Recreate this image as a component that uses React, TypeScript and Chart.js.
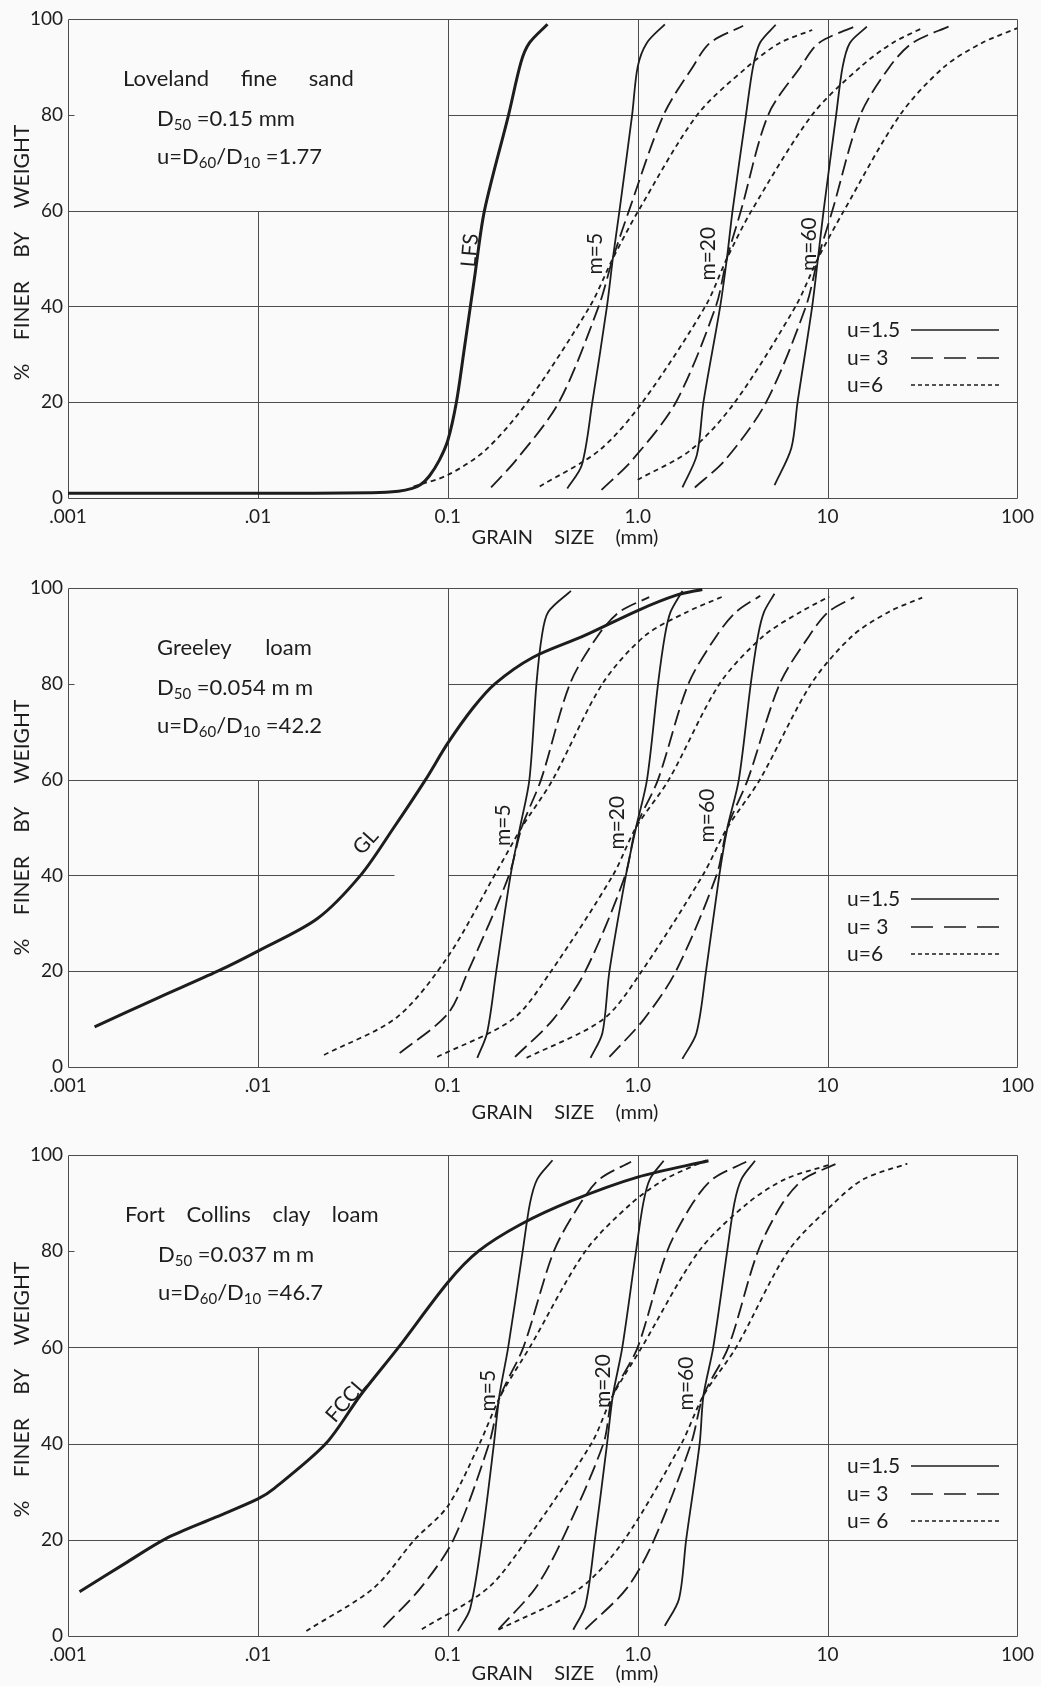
import React, { useEffect, useRef } from 'react';
import { Chart, registerables } from 'chart.js';

Chart.register(...registerables);

type Pt = [number, number];
type Seg = [number, number, number, number];
type Rich = { t: string; sub?: boolean }[];

// ---------------- axes ----------------
const X_TICK_VALUES = [0.001, 0.01, 0.1, 1, 10, 100];
const X_TICK_LABELS = ['.001', '.01', '0.1', '1.0', '10', '100'];
const Y_TICK_VALUES = [0, 20, 40, 60, 80, 100];

// ---------------- panel 1 : Loveland fine sand ----------------
const lfsCurve: Pt[] = [[0.001, 1.0], [0.01, 1.0], [0.04, 1.1], [0.055, 1.4], [0.065, 2.0], [0.072, 2.8], [0.08, 4.6], [0.09, 7.8], [0.1, 12], [0.111, 20], [0.122, 31], [0.139, 46.6], [0.156, 60], [0.209, 80], [0.243, 91], [0.269, 95], [0.335, 98.9]];
const p1M5U15: Pt[] = [[0.426, 2], [0.508, 6.9], [0.577, 20], [0.689, 40], [0.74, 50], [0.802, 60], [0.935, 80], [1.0, 90], [1.117, 95], [1.39, 98.9]];
const p1M20U15: Pt[] = [[1.72, 2.2], [2.05, 9], [2.22, 20], [2.72, 40], [2.95, 50], [3.16, 60], [3.72, 80], [4.05, 90], [4.4, 95], [5.33, 98.8]];
const p1M60U15: Pt[] = [[5.26, 2.7], [6.44, 10.4], [6.95, 20], [8.3, 40], [8.9, 50], [9.53, 60], [11.1, 80], [12.0, 90], [13.1, 95], [16.1, 98.4]];
const p1M5U3: Pt[] = [[0.169, 2.2], [0.23, 8], [0.385, 20], [0.623, 40], [0.74, 50], [0.9, 60], [1.37, 80], [1.95, 90], [2.4, 95], [3.59, 98.6]];
const p1M20U3: Pt[] = [[0.645, 1.7], [0.94, 8], [1.59, 20], [2.58, 40], [2.95, 50], [3.5, 60], [4.87, 80], [7.2, 90], [9.0, 95], [14.2, 98.6]];
const p1M60U3: Pt[] = [[2.0, 2.2], [2.9, 8], [4.75, 20], [7.69, 40], [8.9, 50], [10.6, 60], [14.9, 80], [21.2, 90], [28, 95], [44.4, 98.6]];
const p1M5U6: Pt[] = [[0.066, 2.4], [0.1, 4.8], [0.158, 10], [0.262, 20], [0.56, 40], [0.74, 50], [1.01, 60], [2.06, 80], [3.78, 90], [5.6, 95], [8.3, 97.7]];
const p1M20U6: Pt[] = [[0.305, 2.4], [0.63, 10], [1.06, 20], [2.27, 40], [2.95, 50], [3.98, 60], [8.3, 80], [14.9, 90], [22, 95], [31.9, 98.2]];
const p1M60U6: Pt[] = [[1.0, 3.8], [1.9, 10], [3.25, 20], [6.78, 40], [8.9, 50], [12.2, 60], [24.1, 80], [41.1, 90], [65, 95], [100, 98.1]];

// ---------------- panel 2 : Greeley loam ----------------
const glCurve: Pt[] = [[0.00138, 8.4], [0.003, 14.5], [0.00614, 20], [0.01, 24.2], [0.0206, 31], [0.0347, 40], [0.052, 50], [0.0764, 60], [0.1, 67.6], [0.136, 75], [0.177, 80], [0.28, 85.5], [0.52, 90], [1.0, 95.3], [1.6, 98.5], [2.19, 99.7]];
const p2M5U15: Pt[] = [[0.143, 1.9], [0.161, 7.1], [0.18, 20], [0.214, 40], [0.24, 50], [0.269, 60], [0.293, 80], [0.313, 90], [0.338, 95], [0.445, 99.4]];
const p2M20U15: Pt[] = [[0.565, 1.9], [0.652, 7.1], [0.71, 20], [0.867, 40], [0.98, 50], [1.12, 60], [1.28, 80], [1.39, 90], [1.49, 95], [1.72, 99.4]];
const p2M60U15: Pt[] = [[1.72, 1.7], [2.04, 7.1], [2.29, 20], [2.69, 40], [2.97, 50], [3.41, 60], [3.94, 80], [4.3, 90], [4.63, 95], [5.25, 98.8]];
const p2M5U3: Pt[] = [[0.0558, 2.9], [0.1, 11.1], [0.128, 20], [0.21, 40], [0.245, 50], [0.31, 60], [0.44, 80], [0.616, 90], [0.8, 95], [1.15, 98.1]];
const p2M20U3: Pt[] = [[0.226, 2.1], [0.36, 10], [0.53, 20], [0.86, 40], [0.98, 50], [1.28, 60], [1.85, 80], [2.6, 90], [3.3, 95], [4.42, 98.4]];
const p2M60U3: Pt[] = [[0.71, 2.1], [1.08, 10], [1.59, 20], [2.6, 40], [2.97, 50], [3.8, 60], [5.6, 80], [8.0, 90], [10.1, 95], [13.8, 98.1]];
const p2M5U6: Pt[] = [[0.0223, 2.5], [0.054, 10.4], [0.1, 23], [0.182, 41], [0.245, 50], [0.357, 60], [0.652, 80], [1.09, 90], [1.82, 95], [2.8, 98.2]];
const p2M20U6: Pt[] = [[0.088, 2.1], [0.22, 10], [0.35, 20], [0.74, 40], [0.98, 50], [1.46, 60], [2.7, 80], [4.6, 90], [7.2, 95], [10.2, 98.2]];
const p2M60U6: Pt[] = [[0.26, 1.9], [0.66, 10], [1.05, 20], [2.2, 40], [2.97, 50], [4.4, 60], [8.2, 80], [13.5, 90], [21, 95], [31.5, 98]];

// ---------------- panel 3 : Fort Collins clay loam ----------------
const fcclCurve: Pt[] = [[0.00115, 9.2], [0.002, 15.1], [0.00326, 20.2], [0.006, 24.7], [0.01, 28.5], [0.0122, 30.7], [0.0228, 40], [0.0346, 50], [0.055, 60], [0.1, 73.5], [0.145, 80], [0.24, 85.5], [0.45, 90.5], [1.0, 95.4], [2.36, 98.8]];
const p3M5U15: Pt[] = [[0.113, 1.0], [0.131, 5.6], [0.151, 20], [0.175, 40], [0.187, 50], [0.208, 60], [0.248, 80], [0.271, 90], [0.296, 95], [0.356, 98.9]];
const p3M20U15: Pt[] = [[0.458, 1.3], [0.53, 6.3], [0.595, 20], [0.69, 40], [0.74, 50], [0.83, 60], [0.98, 80], [1.07, 90], [1.16, 95], [1.37, 98.8]];
const p3M60U15: Pt[] = [[1.39, 2.1], [1.65, 7.7], [1.8, 20], [2.12, 40], [2.22, 50], [2.5, 60], [2.96, 80], [3.23, 90], [3.52, 95], [4.15, 98.8]];
const p3M5U3: Pt[] = [[0.0458, 1.8], [0.072, 10], [0.107, 20], [0.165, 40], [0.19, 50], [0.25, 60], [0.362, 80], [0.5, 90], [0.631, 95], [0.923, 98.6]];
const p3M20U3: Pt[] = [[0.185, 1.4], [0.29, 10], [0.4, 20], [0.66, 40], [0.74, 50], [1.0, 60], [1.43, 80], [1.95, 90], [2.48, 95], [3.73, 98.6]];
const p3M60U3: Pt[] = [[0.53, 1.4], [0.88, 10], [1.22, 20], [1.91, 40], [2.22, 50], [3.0, 60], [4.3, 80], [5.8, 90], [7.5, 95], [11.0, 98.1]];
const p3M5U6: Pt[] = [[0.018, 1.05], [0.0408, 10], [0.0668, 20], [0.1, 27], [0.147, 40], [0.19, 50], [0.27, 60], [0.53, 80], [0.93, 90], [1.4, 95], [2.3, 98.9]];
const p3M20U6: Pt[] = [[0.073, 1.4], [0.163, 10], [0.26, 20], [0.57, 40], [0.74, 50], [1.05, 60], [2.1, 80], [3.8, 90], [6.0, 95], [10.5, 98.1]];
const p3M60U6: Pt[] = [[0.185, 1.3], [0.5, 10], [0.85, 20], [1.7, 40], [2.22, 50], [3.3, 60], [6.2, 80], [10.8, 90], [15.5, 95], [26.3, 98.2]];

// ---------------- labels and texts ----------------
const p1CurveLabels = [
  { text: 'LFS', x: 0.131, y: 51.7, angle: -85 },
  { text: 'm=5', x: 0.6, y: 51, angle: -90 },
  { text: 'm=20', x: 2.35, y: 51, angle: -90 },
  { text: 'm=60', x: 8.0, y: 53, angle: -90 },
];
const p2CurveLabels = [
  { text: 'GL', x: 0.037, y: 47, angle: -48 },
  { text: 'm=5', x: 0.196, y: 50.5, angle: -90 },
  { text: 'm=20', x: 0.78, y: 51, angle: -90 },
  { text: 'm=60', x: 2.33, y: 52.5, angle: -90 },
];
const p3CurveLabels = [
  { text: 'FCCL', x: 0.0292, y: 49, angle: -49 },
  { text: 'm=5', x: 0.163, y: 51, angle: -90 },
  { text: 'm=20', x: 0.66, y: 53, angle: -90 },
  { text: 'm=60', x: 1.8, y: 52.5, angle: -90 },
];

const p1Note: Rich[] = [
  [{ t: 'Loveland fine sand' }],
  [{ t: 'D' }, { t: '50', sub: true }, { t: ' =0.15 mm' }],
  [{ t: 'u=D' }, { t: '60', sub: true }, { t: '/D' }, { t: '10', sub: true }, { t: ' =1.77' }],
];
const p2Note: Rich[] = [
  [{ t: 'Greeley loam' }],
  [{ t: 'D' }, { t: '50', sub: true }, { t: ' =0.054 m m' }],
  [{ t: 'u=D' }, { t: '60', sub: true }, { t: '/D' }, { t: '10', sub: true }, { t: ' =42.2' }],
];
const p3Note: Rich[] = [
  [{ t: 'Fort Collins clay loam' }],
  [{ t: 'D' }, { t: '50', sub: true }, { t: ' =0.037 m m' }],
  [{ t: 'u=D' }, { t: '60', sub: true }, { t: '/D' }, { t: '10', sub: true }, { t: ' =46.7' }],
];

const p1Legend = ['u=1.5', 'u= 3', 'u=6'];
const p2Legend = ['u=1.5', 'u= 3', 'u=6'];
const p3Legend = ['u=1.5', 'u= 3', 'u= 6'];

const X_TITLE = 'GRAIN SIZE (mm)';
const Y_TITLE = '% FINER BY WEIGHT';

// grid segments in data coordinates [x1, y1, x2, y2]
const gridBase: Seg[] = [
  [0.001, 0, 0.001, 100], [100, 0, 100, 100], [0.1, 0, 0.1, 100], [1, 0, 1, 100], [10, 0, 10, 100], [0.01, 0, 0.01, 60],
  [0.001, 0, 100, 0], [0.001, 100, 100, 100], [0.001, 20, 100, 20], [0.001, 60, 100, 60], [0.1, 80, 100, 80], [0.001, 80, 0.00107, 80],
];
const grid40Full: Seg[] = [[0.001, 40, 100, 40]];
const grid40Gap: Seg[] = [[0.001, 40, 0.052, 40], [0.1, 40, 100, 40]];

// ---------------- styles ----------------
const FONT = 'Lato, "DejaVu Sans", sans-serif';
const INK = '#1d1d1d';
const GRID_INK = '#4d4d4d';
const DASHES: Record<string, number[]> = { solid: [], long: [16, 6], short: [5, 4] };
const LEGEND_DASHES = [[], [22, 11], [4, 3]];

type Style = 'solid' | 'long' | 'short';

interface PanelCfg {
  top: number;
  canvasH: number;
  plotH: number;
  soil: Pt[];
  theory: [Pt[], Style][];
  labels: { text: string; x: number; y: number; angle: number }[];
  note: Rich[];
  noteX: number[];
  noteSpacing: number;
  legend: string[];
  grid: Seg[];
  xTitleGap: number;
  yTitleShift: number;
}

const panels: PanelCfg[] = [
  {
    top: 0, canvasH: 565, plotH: 479, soil: lfsCurve,
    theory: [[p1M5U15, 'solid'], [p1M20U15, 'solid'], [p1M60U15, 'solid'], [p1M5U3, 'long'], [p1M20U3, 'long'], [p1M60U3, 'long'], [p1M5U6, 'short'], [p1M20U6, 'short'], [p1M60U6, 'short']],
    labels: p1CurveLabels, note: p1Note, noteX: [55, 89, 89], noteSpacing: 26, legend: p1Legend,
    grid: [...gridBase, ...grid40Full], xTitleGap: 40, yTitleShift: -6,
  },
  {
    top: 569, canvasH: 567, plotH: 479, soil: glCurve,
    theory: [[p2M5U15, 'solid'], [p2M20U15, 'solid'], [p2M60U15, 'solid'], [p2M5U3, 'long'], [p2M20U3, 'long'], [p2M60U3, 'long'], [p2M5U6, 'short'], [p2M20U6, 'short'], [p2M60U6, 'short']],
    labels: p2CurveLabels, note: p2Note, noteX: [89, 89, 89], noteSpacing: 28, legend: p2Legend,
    grid: [...gridBase, ...grid40Gap], xTitleGap: 46, yTitleShift: 0,
  },
  {
    top: 1136, canvasH: 550, plotH: 481, soil: fcclCurve,
    theory: [[p3M5U15, 'solid'], [p3M20U15, 'solid'], [p3M60U15, 'solid'], [p3M5U3, 'long'], [p3M20U3, 'long'], [p3M60U3, 'long'], [p3M5U6, 'short'], [p3M20U6, 'short'], [p3M60U6, 'short']],
    labels: p3CurveLabels, note: p3Note, noteX: [57, 90, 90], noteSpacing: 16, legend: p3Legend,
    grid: [...gridBase, ...grid40Full], xTitleGap: 38, yTitleShift: -6,
  },
];

const PAD_TOP = 19;
const PAD_RIGHT = 18;
const Y_AXIS_W = 68;

function drawRich(ctx: CanvasRenderingContext2D, segs: Rich, x: number, y: number, size: number) {
  let cx = x;
  for (const s of segs) {
    const fs = s.sub ? Math.round(size * 0.68) : size;
    ctx.font = `${fs}px ${FONT}`;
    ctx.fillText(s.t, cx, s.sub ? y + size * 0.32 : y);
    cx += ctx.measureText(s.t).width;
  }
}

function makeDecor(cfg: PanelCfg) {
  return {
    id: 'decor',
    beforeDatasetsDraw(chart: any) {
      const { ctx, scales } = chart;
      const xs = scales.x;
      const ys = scales.y;
      ctx.save();
      ctx.strokeStyle = GRID_INK;
      ctx.lineWidth = 1;
      ctx.setLineDash([]);
      for (const [x1, y1, x2, y2] of cfg.grid) {
        const px1 = Math.round(xs.getPixelForValue(x1)) + 0.5;
        const px2 = Math.round(xs.getPixelForValue(x2)) + 0.5;
        const py1 = Math.round(ys.getPixelForValue(y1)) + 0.5;
        const py2 = Math.round(ys.getPixelForValue(y2)) + 0.5;
        ctx.beginPath();
        ctx.moveTo(px1, py1);
        ctx.lineTo(px2, py2);
        ctx.stroke();
      }
      ctx.restore();
    },
    afterDatasetsDraw(chart: any) {
      const { ctx, scales, chartArea } = chart;
      const xs = scales.x;
      const ys = scales.y;
      ctx.save();
      ctx.fillStyle = INK;
      ctx.strokeStyle = INK;
      ctx.textBaseline = 'middle';

      // curve labels
      ctx.font = `21px ${FONT}`;
      ctx.textAlign = 'center';
      for (const l of cfg.labels) {
        const px = xs.getPixelForValue(l.x);
        const py = ys.getPixelForValue(l.y);
        ctx.save();
        ctx.translate(px, py);
        ctx.rotate((l.angle * Math.PI) / 180);
        ctx.fillText(l.text, 0, 0);
        ctx.restore();
      }

      // note block
      ctx.textAlign = 'left';
      const noteY = [60, 99.5, 137.5];
      cfg.note.forEach((segs, i) => {
        (ctx as any).wordSpacing = i === 0 ? `${cfg.noteSpacing}px` : '0px';
        drawRich(ctx, segs, chartArea.left + cfg.noteX[i], chartArea.top + noteY[i], 22);
      });
      (ctx as any).wordSpacing = '0px';

      // legend
      const rowY = [311, 339, 366];
      ctx.font = `21px ${FONT}`;
      cfg.legend.forEach((txt, i) => {
        const y = chartArea.top + rowY[i];
        ctx.fillText(txt, chartArea.left + 779, y);
        ctx.beginPath();
        ctx.lineWidth = 1.6;
        ctx.setLineDash(LEGEND_DASHES[i]);
        ctx.moveTo(chartArea.left + 843, y);
        ctx.lineTo(chartArea.left + 931, y);
        ctx.stroke();
      });
      ctx.setLineDash([]);

      // x title
      ctx.textAlign = 'center';
      ctx.font = `20px ${FONT}`;
      (ctx as any).wordSpacing = '16px';
      ctx.fillText(X_TITLE, 565, chartArea.bottom + cfg.xTitleGap);

      // y title
      ctx.save();
      ctx.font = `21px ${FONT}`;
      (ctx as any).wordSpacing = '18px';
      ctx.translate(22, (chartArea.top + chartArea.bottom) / 2 + cfg.yTitleShift);
      ctx.rotate(-Math.PI / 2);
      ctx.fillText(Y_TITLE, 0, 0);
      ctx.restore();
      (ctx as any).wordSpacing = '0px';
      ctx.restore();
    },
  };
}

function Panel({ cfg }: { cfg: PanelCfg }) {
  const ref = useRef<HTMLCanvasElement | null>(null);
  useEffect(() => {
    if (!ref.current) return;
    const toData = (pts: Pt[]) => pts.map(([x, y]) => ({ x, y }));
    const datasets: any[] = cfg.theory.map(([pts, style]) => ({
      data: toData(pts),
      borderColor: INK,
      borderWidth: 1.8,
      borderDash: DASHES[style],
      pointRadius: 0,
      fill: false,
      tension: 0.3,
    }));
    datasets.push({
      data: toData(cfg.soil),
      borderColor: INK,
      borderWidth: 3,
      borderDash: [],
      pointRadius: 0,
      fill: false,
      tension: 0.3,
    });
    const xAxisH = cfg.canvasH - PAD_TOP - cfg.plotH;
    const chart = new Chart(ref.current, {
      type: 'line',
      data: { datasets },
      options: {
        animation: false,
        responsive: false,
        devicePixelRatio: 1,
        events: [],
        layout: { padding: { top: PAD_TOP, right: PAD_RIGHT, left: 0, bottom: 0 } },
        plugins: { legend: { display: false }, tooltip: { enabled: false }, title: { display: false } },
        scales: {
          x: {
            type: 'logarithmic',
            min: 0.001,
            max: 100,
            grid: { display: false, drawTicks: false },
            border: { display: false },
            ticks: {
              autoSkip: false,
              maxRotation: 0,
              padding: 7,
              color: INK,
              font: { family: FONT, size: 19 },
              callback: (_v: any, i: number) => X_TICK_LABELS[i],
            },
            afterBuildTicks: (s: any) => {
              s.ticks = X_TICK_VALUES.map((v) => ({ value: v }));
            },
            afterFit: (s: any) => {
              s.height = xAxisH;
            },
          },
          y: {
            type: 'linear',
            min: 0,
            max: 100,
            grid: { display: false, drawTicks: false },
            border: { display: false },
            ticks: {
              padding: 5,
              color: INK,
              font: { family: FONT, size: 19 },
            },
            afterBuildTicks: (s: any) => {
              s.ticks = Y_TICK_VALUES.map((v) => ({ value: v }));
            },
            afterFit: (s: any) => {
              s.width = Y_AXIS_W;
            },
          },
        },
      } as any,
      plugins: [makeDecor(cfg)],
    });
    return () => chart.destroy();
  }, [cfg]);
  return (
    <canvas
      ref={ref}
      width={1041}
      height={cfg.canvasH}
      style={{ position: 'absolute', left: 0, top: cfg.top, width: 1041, height: cfg.canvasH }}
    />
  );
}

export default function App() {
  return (
    <div
      style={{
        position: 'absolute',
        left: 0,
        top: 0,
        width: 1041,
        height: 1686,
        background: '#fafafa',
        overflow: 'hidden',
      }}
    >
      {panels.map((p, i) => (
        <Panel key={i} cfg={p} />
      ))}
    </div>
  );
}
